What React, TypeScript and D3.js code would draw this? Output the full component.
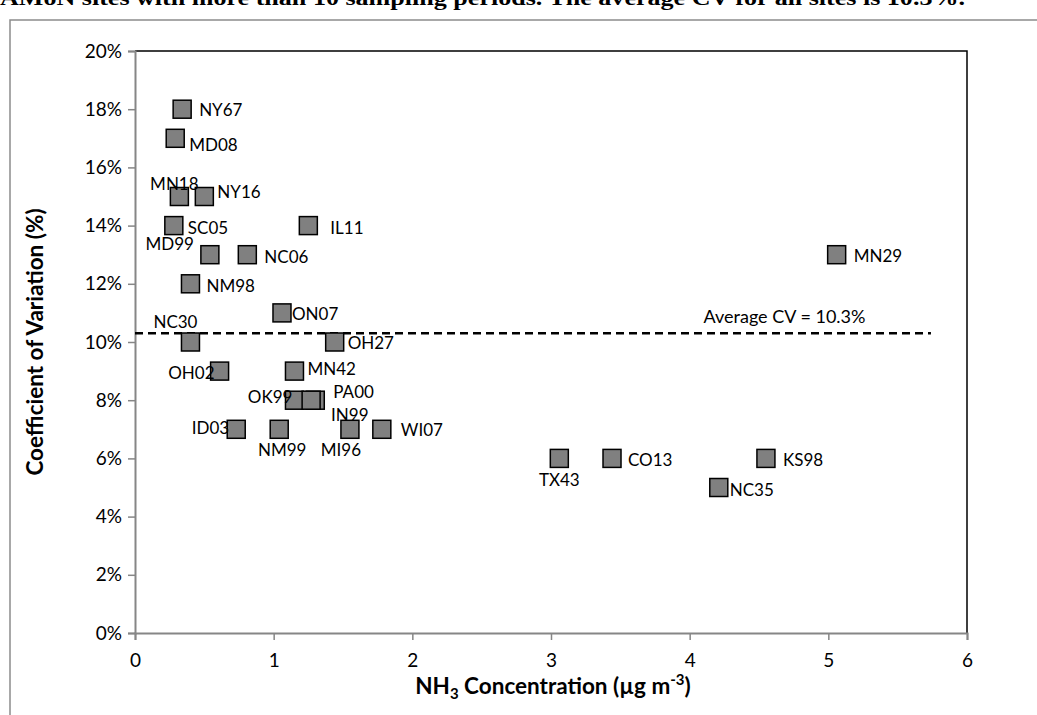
import React, { useRef, useEffect } from "react";
import * as d3 from "d3";

// site names, NH3 concentration (ug m-3), CV (%)
const sites = ["NY67", "MD08", "MN18", "NY16", "SC05", "IL11", "MD99", "NC06", "NM98", "ON07", "NC30", "OH27", "OH02", "MN42", "OK99", "PA00", "IN99", "ID03", "NM99", "MI96", "WI07", "TX43", "CO13", "KS98", "NC35", "MN29"];
const concentration = [0.34, 0.29, 0.32, 0.5, 0.28, 1.25, 0.54, 0.81, 0.4, 1.06, 0.4, 1.44, 0.61, 1.15, 1.15, 1.3, 1.27, 0.73, 1.04, 1.55, 1.78, 3.06, 3.44, 4.55, 4.21, 5.06];
const cv = [18, 17, 15, 15, 14, 14, 13, 13, 12, 11, 10, 10, 9, 9, 8, 8, 8, 7, 7, 7, 7, 6, 6, 6, 5, 13];
const averageCV = 10.3;
const xTicks = [0, 1, 2, 3, 4, 5, 6];
const yTicks = [0, 2, 4, 6, 8, 10, 12, 14, 16, 18, 20];

// label placement relative to marker centre: [dx, dy, anchor]
const labelPos: Record<string, [number, number, string]> = {
  NY67: [17, 7, "start"], MD08: [14, 13, "start"], MN18: [-5, -7, "middle"],
  NY16: [13, 1, "start"], SC05: [14, 8, "start"], IL11: [22, 8, "start"],
  MD99: [-16, -5, "end"], NC06: [17, 8, "start"], NM98: [16, 8, "start"],
  ON07: [10, 7, "start"], NC30: [-15, -14, "middle"], OH27: [13, 7, "start"],
  OH02: [-5, 8, "end"], MN42: [13, 4, "start"], OK99: [-2, 3, "end"],
  PA00: [18, -2, "start"], IN99: [20, 21, "start"], ID03: [-7, 5, "end"],
  NM99: [3, 27, "middle"], MI96: [-9, 27, "middle"], WI07: [19, 7, "start"],
  TX43: [0, 28, "middle"], CO13: [16, 8, "start"], KS98: [17, 8, "start"],
  NC35: [11, 8, "start"], MN29: [17, 7, "start"],
};

export default function App() {
  const svgRef = useRef<SVGSVGElement>(null);
  useEffect(() => {
    const svg = d3.select(svgRef.current);
    svg.selectAll("*").remove();
    const font = "Lato, 'Open Sans', sans-serif";

    const x = d3.scaleLinear().domain([0, 6]).range([135, 967]);
    const y = d3.scaleLinear().domain([0, 20]).range([633, 51]);

    // caption, clipped by the top edge as in the source
    svg.append("text")
      .attr("x", 0).attr("y", 5)
      .attr("font-family", "'Liberation Serif', serif")
      .attr("font-weight", "bold").attr("font-size", 20)
      .attr("textLength", 965).attr("lengthAdjust", "spacingAndGlyphs")
      .text("AMoN sites with more than 10 sampling periods. The average CV for all sites is 10.3%.");

    // outer frame
    svg.append("path").attr("d", "M10,715V20H1037")
      .attr("fill", "none").attr("stroke", "#8c8c8c").attr("stroke-width", 1.5);

    // plot border top / right
    svg.append("path")
      .attr("d", `M${x(0)},${y(20)}H${x(6)}V${y(0)}`)
      .attr("fill", "none").attr("stroke", "#000").attr("stroke-width", 1.5);

    // y axis
    const yAxis = svg.append("g").attr("transform", `translate(${x(0)},0)`)
      .call(d3.axisLeft(y).tickValues(yTicks).tickSize(7).tickPadding(6).tickFormat((d) => `${d}%`));
    yAxis.select(".domain").attr("stroke", "#868686").attr("stroke-width", 2);
    yAxis.selectAll(".tick line").attr("stroke", "#868686").attr("stroke-width", 1.5);
    yAxis.selectAll(".tick text").attr("font-family", font).attr("font-size", 19).attr("fill", "#000");

    // x axis
    const xAxis = svg.append("g").attr("transform", `translate(0,${y(0)})`)
      .call(d3.axisBottom(x).tickValues(xTicks).tickSize(7).tickPadding(14).tickFormat(d3.format("d")));
    xAxis.select(".domain").attr("stroke", "#868686").attr("stroke-width", 2);
    xAxis.selectAll(".tick line").attr("stroke", "#868686").attr("stroke-width", 1.5);
    xAxis.selectAll(".tick text").attr("font-family", font).attr("font-size", 19).attr("fill", "#000");

    // axis titles
    svg.append("text")
      .attr("transform", `translate(43,${y(10)}) rotate(-90)`)
      .attr("text-anchor", "middle").attr("font-family", font)
      .attr("font-weight", "bold").attr("font-size", 22.5)
      .text("Coefficient of Variation (%)");

    const xt = svg.append("text")
      .attr("x", (x(0) + x(6)) / 2 + 2).attr("y", 694)
      .attr("text-anchor", "middle").attr("font-family", font)
      .attr("font-weight", "bold").attr("font-size", 22.5);
    xt.append("tspan").text("NH");
    xt.append("tspan").attr("font-size", 15).attr("dy", 5).text("3");
    xt.append("tspan").attr("dy", -5).text(" Concentration (µg m");
    xt.append("tspan").attr("font-size", 15).attr("dy", -9).text("-3");
    xt.append("tspan").attr("dy", 9).text(")");

    // average line
    svg.append("line")
      .attr("x1", x(0)).attr("x2", x(5.74))
      .attr("y1", y(averageCV)).attr("y2", y(averageCV))
      .attr("stroke", "#000").attr("stroke-width", 2.5).attr("stroke-dasharray", "8,5");
    svg.append("text")
      .attr("x", x(4.1)).attr("y", y(averageCV) - 10)
      .attr("font-family", font).attr("font-size", 18)
      .text(`Average CV = ${averageCV}%`);

    const pts = sites.map((s, i) => ({ name: s, x: concentration[i], y: cv[i] }));
    const s = 18;
    svg.append("g").selectAll("rect").data(pts).join("rect")
      .attr("x", (d) => x(d.x) - s / 2).attr("y", (d) => y(d.y) - s / 2)
      .attr("width", s).attr("height", s)
      .attr("fill", "#808080").attr("stroke", "#000").attr("stroke-width", 1.5);

    svg.append("g").selectAll("text").data(pts).join("text")
      .attr("x", (d) => x(d.x) + labelPos[d.name][0])
      .attr("y", (d) => y(d.y) + labelPos[d.name][1])
      .attr("text-anchor", (d) => labelPos[d.name][2])
      .attr("font-family", font).attr("font-size", 17)
      .text((d) => d.name);
  }, []);
  return (
    <svg ref={svgRef} width={1037} height={715}
      style={{ position: "absolute", left: 0, top: 0, background: "#fff" }} />
  );
}
